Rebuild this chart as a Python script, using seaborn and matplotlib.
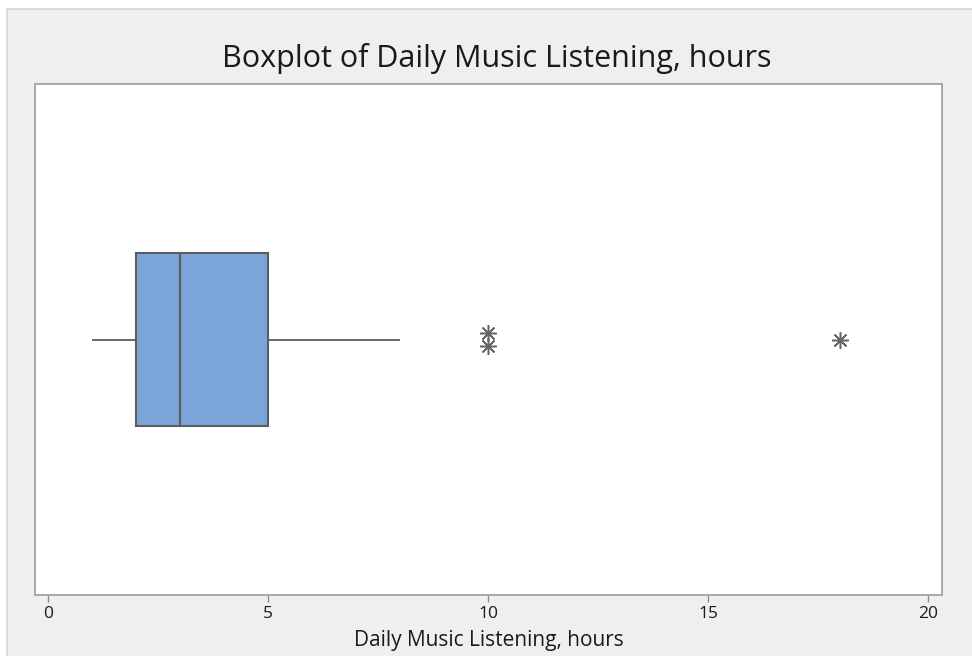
import numpy as np
import pandas as pd
import matplotlib
matplotlib.use("Agg")
import matplotlib.pyplot as plt
from matplotlib.patches import Rectangle
import seaborn as sns

# Daily listening time, hours (one value per respondent)
hours = [1, 1, 2, 2, 2, 2, 2, 3, 3, 3, 4, 4, 5, 8, 10, 10, 18]
title = "Boxplot of Daily Music Listening, hours"
xlabel = "Daily Music Listening, hours"
xticks = [0, 5, 10, 15, 20]

df = pd.DataFrame({"hours": hours})

sns.set_theme(style="white")
plt.rcParams["font.family"] = ["Open Sans", "DejaVu Sans"]

fig = plt.figure(figsize=(9.72, 6.56), dpi=100, facecolor="white")
# light gray panel behind the chart
fig.patches.append(Rectangle((7 / 972, -0.01), 1, 1.01 - 9 / 656, transform=fig.transFigure,
                             facecolor="#efefef", edgecolor="#d4d4d4", lw=1.2, zorder=-10))

ax = fig.add_axes([35 / 972, 1 - 595 / 656, (942 - 35) / 972, (595 - 84) / 656])
ax.set_facecolor("white")

edge = "#5c5c5c"
sns.boxplot(data=df, x="hours", ax=ax, width=0.337, color="#7ba5d8", saturation=1,
            whis=1.5, showfliers=False, showcaps=False,
            boxprops=dict(edgecolor=edge, linewidth=1.5),
            medianprops=dict(color=edge, linewidth=1.5),
            whiskerprops=dict(color=edge, linewidth=1.3))

# outliers beyond 1.5 IQR drawn as asterisks, repeated values stacked
vals = np.asarray(hours, dtype=float)
q1, q3 = np.percentile(vals, [25, 75])
iqr = q3 - q1
out = np.sort(vals[(vals > q3 + 1.5 * iqr) | (vals < q1 - 1.5 * iqr)])
uniq, counts = np.unique(out, return_counts=True)
step = 0.027
for v, c in zip(uniq, counts):
    offs = (np.arange(c) - (c - 1) / 2) * step
    ax.plot(np.full(c, v), offs, linestyle="none", marker=(8, 2, 0), markersize=12,
            markeredgecolor="#666666", markeredgewidth=1.1, zorder=5)

ax.set_xlim(-0.3, 20.32)
ax.set_ylim(0.5, -0.5)
ax.set_yticks([])
ax.set_ylabel("")
ax.set_xticks(xticks)
ax.set_xticklabels([str(t) for t in xticks], fontsize=12.5, color="#1a1a1a")
ax.tick_params(axis="x", direction="out", length=5, width=1, color="#8c8c8c", pad=3,
               bottom=True)
ax.set_xlabel(xlabel, fontsize=15, color="#1a1a1a", labelpad=6)
for s in ax.spines.values():
    s.set_color("#a8a8a8")
    s.set_linewidth(1.4)

fig.text(0.5 * (222 + 772) / 972, 1 - 59 / 656, title, ha="center", va="center",
         fontsize=22, color="#1a1a1a")

fig.savefig("out.png", dpi=100, facecolor=fig.get_facecolor())
